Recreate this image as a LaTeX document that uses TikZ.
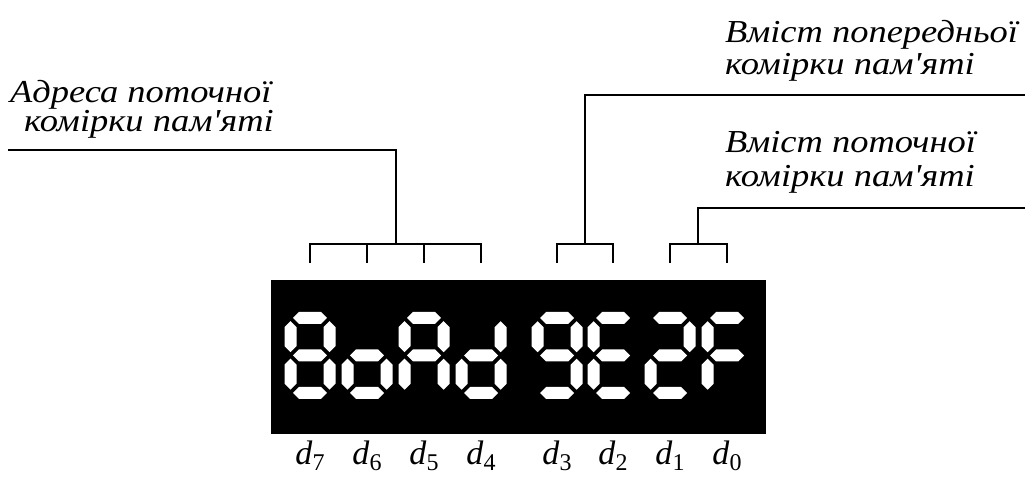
\documentclass[tikz,border=0pt]{standalone}
\usepackage{fontspec}
\usepackage{graphicx}
\setmainfont{Liberation Serif}
\begin{document}
\begin{tikzpicture}[x=1pt,y=1pt,
  wire/.style={line width=1.7pt},
  caption/.style={font=\fontsize{32}{36}\selectfont\itshape, anchor=base west, inner sep=0pt},
  digitlabel/.style={font=\fontsize{34}{34}\selectfont, anchor=base, inner sep=0pt},
  segfill/.style={fill=white}]
\useasboundingbox (0,0) rectangle (1025,478);

% seven-segment helpers: a top, b upper right, c lower right, d bottom,
% e lower left, f upper left, g middle
\newcommand\hsegm[2]{\fill[segfill,shift={(#1,#2)}] (-17,0) -- (-11,6) -- (11,6) -- (17,0) -- (11,-6) -- (-11,-6) -- cycle;}
\newcommand\vsegm[2]{\fill[segfill,shift={(#1,#2)}] (0,-15.5) -- (6,-9.5) -- (6,9.5) -- (0,15.5) -- (-6,9.5) -- (-6,-9.5) -- cycle;}
\newcommand\segma[2]{\hsegm{#1}{#2+37.5}}
\newcommand\segmb[2]{\vsegm{#1+19.5}{#2+18.75}}
\newcommand\segmc[2]{\vsegm{#1+19.5}{#2-18.75}}
\newcommand\segmd[2]{\hsegm{#1}{#2-37.5}}
\newcommand\segme[2]{\vsegm{#1-19.5}{#2-18.75}}
\newcommand\segmf[2]{\vsegm{#1-19.5}{#2+18.75}}
\newcommand\segmg[2]{\hsegm{#1}{#2}}
\newcommand\sevenseg[3]{\foreach \s in {#3} {\csname segm\s\endcsname{#1}{#2}}}
\newcommand\apos{\textquotesingle}
% captions are set slightly wide
\newcommand\wide[1]{\scalebox{1.14}[1]{#1}}

% display panel
\fill[black] (271,44) rectangle (766,198);
\node[inner sep=0pt] (panel) at (518.5,121) {};

\sevenseg{310}{122.5}{a,b,c,d,e,f,g}   % 8
\sevenseg{367}{122.5}{c,d,e,g}         % o
\sevenseg{424}{122.5}{a,b,c,e,f,g}     % A
\sevenseg{481}{122.5}{b,c,d,e,g}       % d
\sevenseg{557}{122.5}{a,b,c,d,f,g}     % 9
\sevenseg{613}{122.5}{a,d,e,f,g}       % E
\sevenseg{670}{122.5}{a,b,d,e,g}       % 2
\sevenseg{727}{122.5}{a,e,f,g}         % F

% digit position labels
\foreach \n/\x in {7/310,6/367,5/424,4/481,3/557,2/613,1/670,0/727}{
  \node[digitlabel] (d\n) at (\x,13) {\textit{d}\raisebox{-6pt}{\fontsize{24}{24}\selectfont\n}};
  \coordinate (t\n) at (\x,215);
}

% bracket junctions
\coordinate (g1) at (396,234);
\coordinate (g2) at (585,234);
\coordinate (g3) at (698,234);

% address bracket
\draw[wire] (t7) |- (g1) -| (t4);
\draw[wire] (t6) -- (t6 |- g1);
\draw[wire] (t5) -- (t5 |- g1);
% previous-cell bracket
\draw[wire] (t3) |- (g2) -| (t2);
% current-cell bracket
\draw[wire] (t1) |- (g3) -| (t0);

% captions
\node[caption] (addr1) at (10,375) {\wide{Адреса поточної}};
\node[caption] (addr2) at (24,346) {\wide{комірки пам\apos яті}};
\node[caption] (prev1) at (725,435) {\wide{Вміст попередньої}};
\node[caption] (prev2) at (725,403) {\wide{комірки пам\apos яті}};
\node[caption] (cur1) at (725,325) {\wide{Вміст поточної}};
\node[caption] (cur2) at (725,291) {\wide{комірки пам\apos яті}};

% leader lines
\coordinate (l1) at (8,328);
\coordinate (l2) at (1025,383);
\coordinate (l3) at (1025,270);
\draw[wire] (l1) -| (g1);
\draw[wire] (l2) -| (g2);
\draw[wire] (l3) -| (g3);
\end{tikzpicture}
\end{document}
